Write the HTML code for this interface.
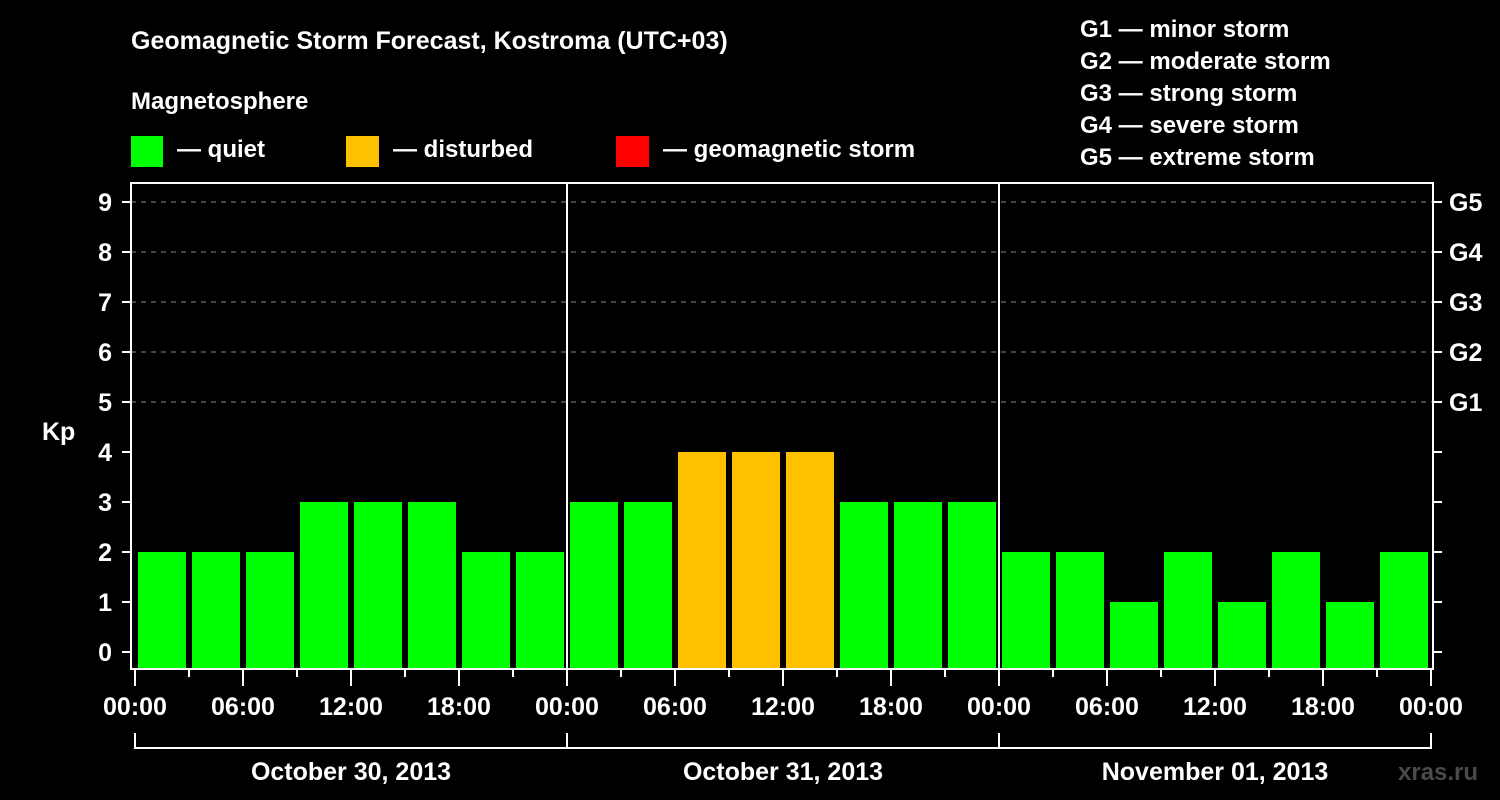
<!DOCTYPE html>
<html><head><meta charset="utf-8"><style>
body{margin:0;background:#000;width:1500px;height:800px;overflow:hidden}
svg{display:block}
text{font-family:"Liberation Sans",sans-serif;font-weight:bold;fill:#fff}
</style></head><body>
<svg id="chart" width="1500" height="800">
<text x="131" y="49" font-size="25">Geomagnetic Storm Forecast, Kostroma (UTC+03)</text>
<text x="131" y="109" font-size="24">Magnetosphere</text>
<g><rect x="131" y="136" width="32" height="31" fill="#00ff00"/><text x="177" y="157" font-size="24">— quiet</text></g>
<g><rect x="346" y="136" width="33" height="31" fill="#ffc000"/><text x="393" y="157" font-size="24">— disturbed</text></g>
<g><rect x="616" y="136" width="33" height="31" fill="#ff0000"/><text x="663" y="157" font-size="24">— geomagnetic storm</text></g>
<g font-size="24">
<text x="1080" y="37">G1 — minor storm</text>
<text x="1080" y="69">G2 — moderate storm</text>
<text x="1080" y="101">G3 — strong storm</text>
<text x="1080" y="133">G4 — severe storm</text>
<text x="1080" y="165">G5 — extreme storm</text>
</g>
<text x="42" y="440" font-size="25">Kp</text>
<g id="grid"></g><g id="bars"></g><g id="axes"></g>
<text x="1398" y="780" font-size="24" fill="#444" style="fill:#4a4a4a">xras.ru</text>
</svg>
<script>
const kpValues=[2,2,2,3,3,3,2,2, 3,3,4,4,4,3,3,3, 2,2,1,2,1,2,1,2];
const kpStatus=["q","q","q","q","q","q","q","q","q","q","d","d","d","q","q","q","q","q","q","q","q","q","q","q"];
const dayLabels=["October 30, 2013","October 31, 2013","November 01, 2013"];
const hourLabels=["00:00","06:00","12:00","18:00"];
const yTicks=[0,1,2,3,4,5,6,7,8,9];
const gLabels=["G1","G2","G3","G4","G5"];
const NS="http://www.w3.org/2000/svg";
const X0=135,PXH=18,PL=131,PR=1433,PT=183,PB=669;
const xh=h=>X0+h*PXH;
const y=v=>652-50*v;
function mk(t,a,p){const e=document.createElementNS(NS,t);for(const k in a)e.setAttribute(k,a[k]);p.appendChild(e);return e;}
const grid=document.getElementById('grid'),bars=document.getElementById('bars'),axes=document.getElementById('axes');
yTicks.forEach(v=>{
  if(v>=5){const l=mk('line',{x1:PL,x2:PR,y1:y(v),y2:y(v),stroke:'#888','stroke-width':1,'stroke-dasharray':'5,5'},grid);
  
  }
  const t=mk('line',{x1:122,x2:PL,y1:y(v),y2:y(v),stroke:'#fff','stroke-width':2},axes);
  
  
  const tr=mk('line',{x1:PR,x2:1442,y1:y(v),y2:y(v),stroke:'#fff','stroke-width':2},axes);
  
  
  const tx=mk('text',{x:112,y:y(v)+9,'font-size':25,'text-anchor':'end'},axes);tx.textContent=v;
  
  
});
gLabels.forEach((g,i)=>{const t=mk('text',{x:1449,y:y(5+i)+9,'font-size':25},axes);t.textContent=g;
  
  });
kpValues.forEach((v,i)=>{
  const r=mk('rect',{x:xh(i*3)+3,width:48,y:y(v),height:PB-y(v),fill:kpStatus[i]==='d'?'#ffc000':(kpStatus[i]==='s'?'#ff0000':'#00ff00')},bars);
  
  
});
const fr=mk('rect',{x:PL,y:PT,width:PR-PL,height:PB-PT,fill:'none',stroke:'#fff','stroke-width':2},axes);


for(let d=1;d<dayLabels.length;d++){const l=mk('line',{x1:xh(24*d),x2:xh(24*d),y1:PT,y2:PB,stroke:'#fff','stroke-width':2},axes);
  
  }
for(let h=0;h<=72;h+=3){const major=h%6===0;
  const t=mk('line',{x1:xh(h),x2:xh(h),y1:PB,y2:major?686:677,stroke:'#fff','stroke-width':2},axes);
  
  
  if(major){const tx=mk('text',{x:xh(h),y:715,'font-size':25,'text-anchor':'middle'},axes);tx.textContent=hourLabels[(h/6)%4];
  
  }
}
dayLabels.forEach((d,i)=>{
  const p=mk('path',{d:`M${xh(24*i)},733 V748 H${xh(24*(i+1))} V733`,fill:'none',stroke:'#fff','stroke-width':2},axes);
  
  
  const t=mk('text',{x:xh(24*i+12),y:780,'font-size':25,'text-anchor':'middle'},axes);t.textContent=d;
  
  
});
</script>
</body></html>
